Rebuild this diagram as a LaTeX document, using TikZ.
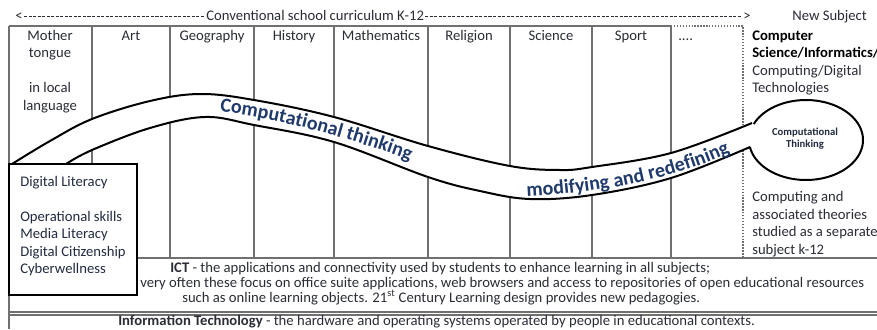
\documentclass[tikz,border=0pt]{standalone}
\usepackage{fontspec}
\setmainfont{Carlito}
\usetikzlibrary{decorations.text}
\definecolor{txt}{HTML}{2A2D35}
\definecolor{boxtxt}{HTML}{222B40}
\definecolor{navy}{HTML}{1F3A6B}
\definecolor{gridc}{HTML}{707070}
\newcommand\bandfont{\fontsize{15}{15}\selectfont\bfseries\color{navy}}
\begin{document}
\begin{tikzpicture}[x=0.75pt,y=-0.75pt,
  font=\fontsize{11}{13}\selectfont,
  lbl/.style={anchor=base, inner sep=0pt, text=txt},
  lbll/.style={anchor=base west, inner sep=0pt, text=txt},
  boxlbl/.style={anchor=base west, inner sep=0pt, text=boxtxt},
  gridline/.style={draw=gridc, line width=0.8pt},
  dotline/.style={draw=gridc, line width=0.9pt, dash pattern=on 1pt off 1.2pt},
  hyph/.style={draw=txt, line width=0.6pt, dash pattern=on 2.3pt off 1.1pt},
  bandline/.style={draw=black, line width=1.5pt},
  litbox/.style={draw=black, line width=2.2pt, fill=white}]
\useasboundingbox (0,0) rectangle (877,329);
\fill[white] (0,0) rectangle (877,329);

% header
\node[lbl] (lt) at (19,20) {<};
\node[lbll] (conv) at (206,20) {Conventional school curriculum K-12};
\node[lbl] (gt) at (747,20) {>};
\node[lbll] (newsub) at (792,20) {New Subject};
\draw[hyph] (24,16.5) -- (204,16.5);
\draw[hyph] (425,16.5) -- (741,16.5);

% grid
\draw[gridline] (9,26) -- (671,26);
\draw[gridline] (9,26) -- (9,329);
\foreach \x in {92,170,254,334,428,510,592,671}
  \draw[gridline] (\x,26) -- (\x,258);
\draw[dotline] (671,26) -- (743,26) -- (743,258);
\draw[gridline] (9,258) -- (877,258);
\draw[gridline] (9,312) -- (877,312);
\draw[gridline] (9,315) -- (877,315);

% column headers
\node[lbl] (mt1) at (50,40) {Mother};
\node[lbl] (mt2) at (50,57.5) {tongue};
\node[lbl] (mt3) at (50,92.5) {in local};
\node[lbl] (mt4) at (50,110) {language};
\node[lbl] (art) at (131,40) {Art};
\node[lbl] (geo) at (212,40) {Geography};
\node[lbl] (his) at (294,40) {History};
\node[lbl] (mat) at (381,40) {Mathematics};
\node[lbl] (rel) at (469,40) {Religion};
\node[lbl] (sci) at (551,40) {Science};
\node[lbl] (spo) at (631,40) {Sport};
\node[lbll] (dots) at (678,40) {....};
\node[lbll,font=\fontsize{11}{13}\selectfont\bfseries,text=black] (cs1) at (752,40) {Computer};
\node[lbll,font=\fontsize{11}{13}\selectfont\bfseries,text=black] (cs2) at (752,57.5) {Science/Informatics/};
\node[lbll] (cs3) at (752,75) {Computing/Digital};
\node[lbll] (cs4) at (752,92.5) {Technologies};

\node[lbll] (sep1) at (752,201) {Computing and};
\node[lbll] (sep2) at (752,219) {associated theories};
\node[lbll] (sep3) at (752,236.5) {studied as a separate};
\node[lbll] (sep4) at (752,254) {subject k-12};

% band
\fill[white]
  plot[smooth,tension=0.6] coordinates {(12,164) (50,141) (92,119) (150,101) (200,94) (254,100) (334,117) (428,146) (510,166) (560,170) (592,167) (671,153) (752,123)}
  -- plot[smooth,tension=0.6] coordinates {(750,147) (671,178) (592,195) (530,199) (480,191) (428,177) (334,142) (254,125) (205,117) (150,128) (92,150) (66,164)}
  -- cycle;
\fill[white] (806,140) ellipse [x radius=57, y radius=40];
\draw[bandline] plot[smooth,tension=0.6] coordinates {(12,164) (50,141) (92,119) (150,101) (200,94) (254,100) (334,117) (428,146) (510,166) (560,170) (592,167) (671,153) (752,123)};
\draw[bandline] plot[smooth,tension=0.6] coordinates {(66,164) (92,150) (150,128) (205,117) (254,125) (334,142) (428,177) (480,191) (530,199) (592,195) (671,178) (750,147)};
\draw[bandline] plot[domain=203.6:530,samples=90] ({806+57*cos(\x)},{140+40*sin(\x)});

\path[decorate,decoration={text along path,text align=center,
  text={|\bandfont|Computational thinking}}]
  (196,110) .. controls (260,112) and (360,140) .. (432,169);
\path[decorate,decoration={text along path,text align=center,
  text={|\bandfont|modifying and redefining}}]
  (516,197) .. controls (600,194) and (680,178) .. (740,148);

\node[inner sep=0pt,align=center,text=boxtxt,
  font=\fontsize{8}{9}\selectfont\bfseries] (ctn) at (805,139) {Computational\\Thinking};

% digital literacy box
\draw[litbox] (9,164) rectangle (137,295);
\node[boxlbl] (dl1) at (20,186) {Digital Literacy};
\node[boxlbl] (dl2) at (20,221) {Operational skills};
\node[boxlbl] (dl3) at (20,238.5) {Media Literacy};
\node[boxlbl] (dl4) at (20,256) {Digital Citizenship};
\node[boxlbl] (dl5) at (20,273.5) {Cyberwellness};

% ICT rows
\node[lbll] (ict1) at (170,272) {\textbf{ICT} - the applications and connectivity used by students to enhance learning in all subjects;};
\node[lbll] (ict2) at (140,287) {very often these focus on office suite applications, web browsers and access to repositories of open educational resources};
\node[lbll] (ict3) at (182,302) {such as online learning objects. 21\textsuperscript{st} Century Learning design provides new pedagogies.};
\node[lbll] (it) at (118,325) {\textbf{Information Technology} - the hardware and operating systems operated by people in educational contexts.};
\end{tikzpicture}
\end{document}
